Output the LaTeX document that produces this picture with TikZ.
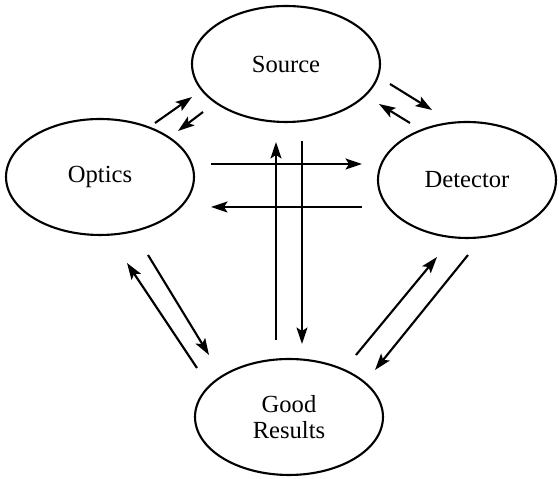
\documentclass[tikz,border=0pt]{standalone}
\usepackage{fontspec}
\setmainfont{Liberation Serif}
\usetikzlibrary{arrows.meta,shapes.geometric}
\tikzstyle{bubble} = [ellipse, draw, line width=1.2pt, inner sep=0pt,
    minimum width=3.76cm, minimum height=2.32cm, align=center,
    font=\fontsize{14}{15}\selectfont]
\tikzstyle{line} = [draw, line width=1.2pt,
    -{Stealth[length=3.3mm,width=2.2mm,inset=0.7mm]}]

\begin{document}
\begin{tikzpicture}[x=0.02cm, y=0.02cm]
    \useasboundingbox (0,0) rectangle (559,479);
    % Place nodes
    \node [bubble] (source) at (286,415) {Source};
    \node [bubble] (optics) at (100,302) {Optics};
    \node [bubble, minimum width=3.56cm] (detector) at (467,299) {Detector};
    \node [bubble] (goodResults) at (289,62) {Good\\Results};
    % Draw edges
    \path [line] ([shift={(55,54)}]optics.center) -- ([shift={(-94,-33)}]source.center);
    \path [line] ([shift={(-83,-48)}]source.center) -- ([shift={(78,46)}]optics.center);
    \path [line] ([shift={(104,-20)}]source.center) -- ([shift={(-35,70)}]detector.center);
    \path [line] ([shift={(-57,57)}]detector.center) -- ([shift={(93,-40)}]source.center);
    \path [line] ([shift={(111,13)}]optics.center) -- ([shift={(-105,16)}]detector.center);
    \path [line] ([shift={(-105,-27)}]detector.center) -- ([shift={(111,-30)}]optics.center);
    \path [line] ([shift={(-13,77)}]goodResults.center) -- ([shift={(-10,-78)}]source.center);
    \path [line] ([shift={(16,-77)}]source.center) -- ([shift={(13,73)}]goodResults.center);
    \path [line] ([shift={(-92,49)}]goodResults.center) -- ([shift={(27,-86)}]optics.center);
    \path [line] ([shift={(48,-78)}]optics.center) -- ([shift={(-80,62)}]goodResults.center);
    \path [line] ([shift={(67,62)}]goodResults.center) -- ([shift={(-30,-77)}]detector.center);
    \path [line] ([shift={(1,-75)}]detector.center) -- ([shift={(86,47)}]goodResults.center);
\end{tikzpicture}
\end{document}
